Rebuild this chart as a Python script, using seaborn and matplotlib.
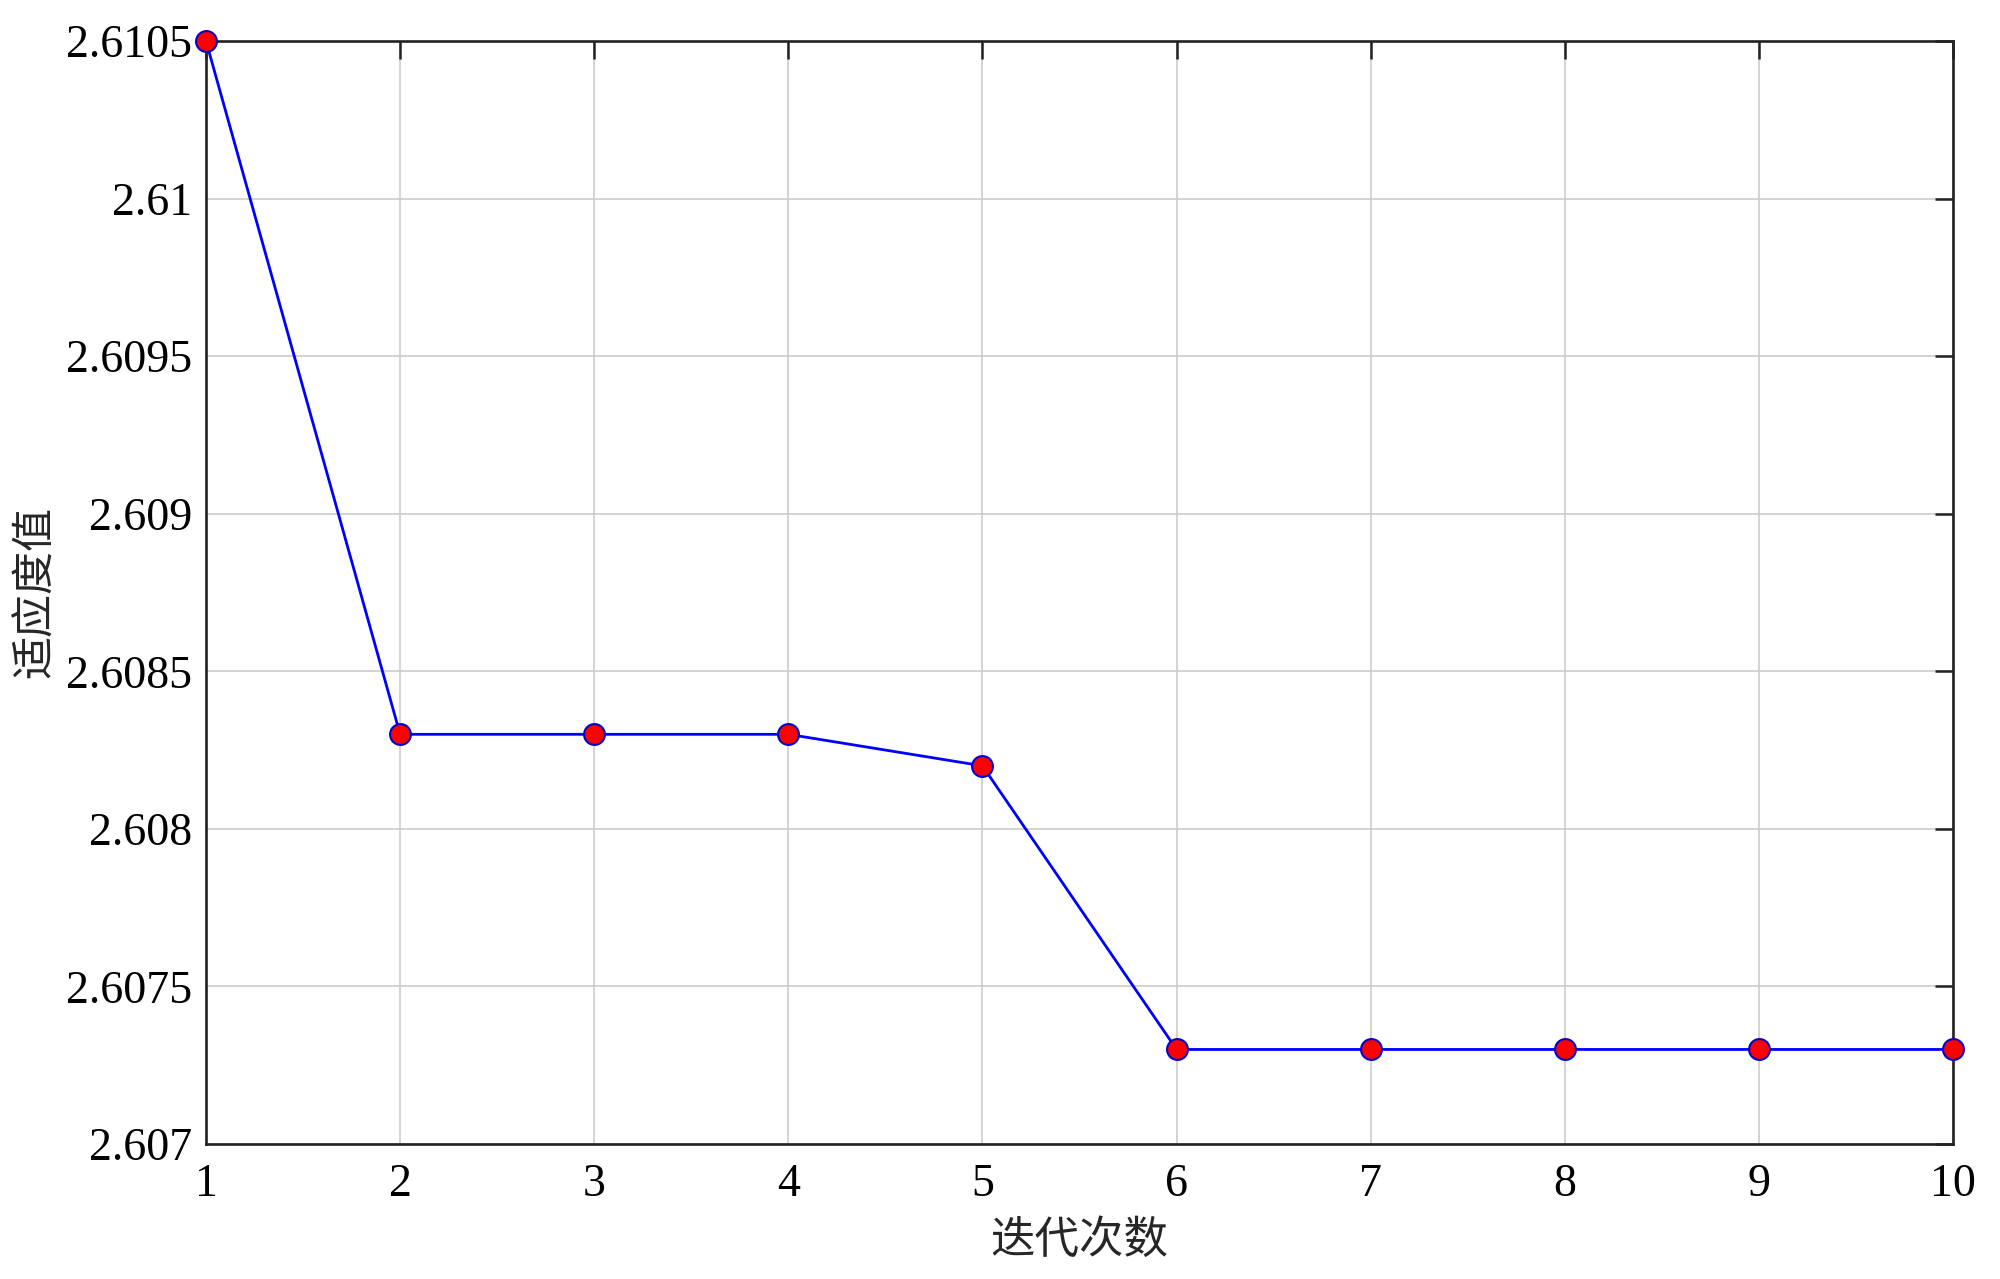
import numpy as np
import pandas as pd
import matplotlib
matplotlib.use("Agg")
import matplotlib.pyplot as plt
import seaborn as sns

iterations = [1, 2, 3, 4, 5, 6, 7, 8, 9, 10]
fitness = [2.6105, 2.6083, 2.6083, 2.6083, 2.6082, 2.6073, 2.6073, 2.6073, 2.6073, 2.6073]
y_ticks = [2.607, 2.6075, 2.608, 2.6085, 2.609, 2.6095, 2.61, 2.6105]
y_tick_labels = ["2.607", "2.6075", "2.608", "2.6085", "2.609", "2.6095", "2.61", "2.6105"]
x_label = "迭代次数"
y_label = "适应度值"

sns.set_theme(style="white")
plt.rcParams['font.family'] = ['Liberation Serif', 'Noto Sans CJK SC', 'DejaVu Sans']

df = pd.DataFrame({"iter": iterations, "fit": fitness})

fig = plt.figure(figsize=(20, 12.79), dpi=100)
ax = fig.add_axes([206/2000, 1 - 1144/1279, (1953-206)/2000, (1144-41)/1279])

sns.lineplot(data=df, x="iter", y="fit", ax=ax, color="#0000ff", linewidth=2,
             marker="o", markersize=15, markerfacecolor="#ff0000",
             markeredgecolor="#0000cc", markeredgewidth=1.5, clip_on=False, zorder=5)

ax.set_xlim(1, 10)
ax.set_ylim(2.607, 2.6105)
ax.set_xticks(iterations)
ax.set_xticklabels([str(i) for i in iterations])
ax.set_yticks(y_ticks)
ax.set_yticklabels(y_tick_labels)

ax.grid(True, color="#cccccc", linewidth=1.2)
for s in ax.spines.values():
    s.set_visible(True)
    s.set_color("#222222")
    s.set_linewidth(1.9)

ax.tick_params(axis="both", direction="in", length=13, width=1.8, color="#222222",
               labelsize=33, top=True, right=True, labelcolor="black")
ax.tick_params(axis="x", pad=14)
ax.tick_params(axis="y", pad=10)

ax.set_xlabel(x_label, fontsize=32, family=['Noto Sans CJK SC'], labelpad=8)
ax.set_ylabel(y_label, fontsize=31, family=['Noto Sans CJK SC'], labelpad=6)

fig.savefig("out.png", dpi=100, facecolor="white")
